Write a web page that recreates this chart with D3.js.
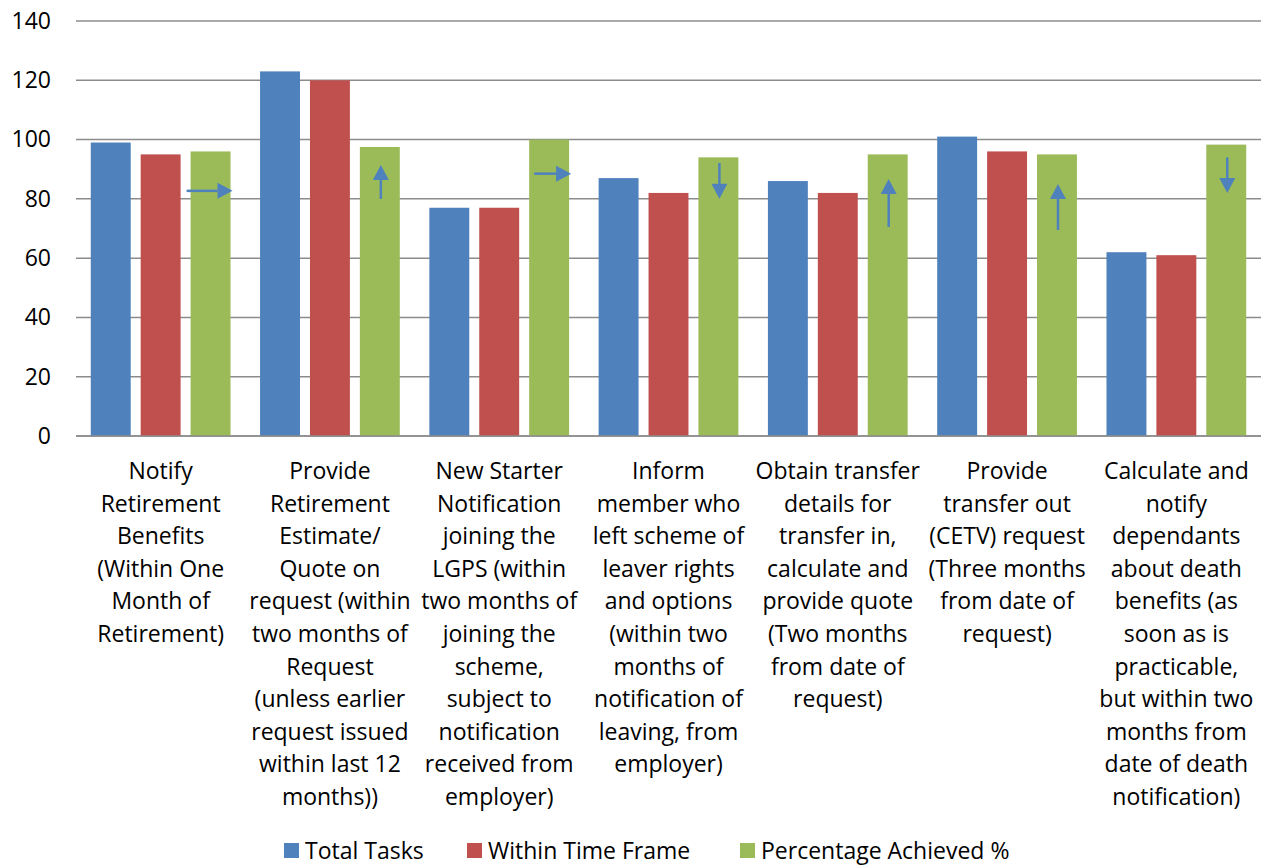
<!DOCTYPE html>
<html>
<head>
<meta charset="utf-8">
<script src="https://cdn.jsdelivr.net/npm/d3@7"></script>
<style>
  html, body { margin: 0; padding: 0; background: #fff; }
  svg { display: block; }
  text { font-family: "Open Sans", Lato, sans-serif; fill: #000; }
</style>
</head>
<body>
<svg id="chart" width="1263" height="865"></svg>
<script>
// ---- data ----
const categories = [
  ["Notify", "Retirement", "Benefits", "(Within One", "Month of", "Retirement)"],
  ["Provide", "Retirement", "Estimate/", "Quote on", "request (within", "two months of", "Request", "(unless earlier", "request issued", "within last 12", "months))"],
  ["New Starter", "Notification", "joining the", "LGPS (within", "two months of", "joining the", "scheme,", "subject to", "notification", "received from", "employer)"],
  ["Inform", "member who", "left scheme of", "leaver rights", "and options", "(within two", "months of", "notification of", "leaving, from", "employer)"],
  ["Obtain transfer", "details for", "transfer in,", "calculate and", "provide quote", "(Two months", "from date of", "request)"],
  ["Provide", "transfer out", "(CETV) request", "(Three months", "from date of", "request)"],
  ["Calculate and", "notify", "dependants", "about death", "benefits (as", "soon as is", "practicable,", "but within two", "months from", "date of death", "notification)"]
];
const seriesNames = ["Total Tasks", "Within Time Frame", "Percentage Achieved %"];
const totalTasks = [99, 123, 77, 87, 86, 101, 62];
const withinTimeFrame = [95, 120, 77, 82, 82, 96, 61];
const percentageAchieved = [96, 97.5, 100, 94, 95, 95, 98.3];
const yTicks = [0, 20, 40, 60, 80, 100, 120, 140];
// trend arrows drawn on the green bars (values in axis units)
const arrowDirs = ["right", "up", "right", "down", "up", "up", "down"];
const arrowFrom = [82.7, 80, 88.5, 92.1, 70.5, 69.5, 94];
const arrowTo   = [82.7, 91.4, 88.5, 80, 86.7, 85, 82];

// ---- layout ----
const colors = ["#4F81BD", "#C0504D", "#9BBB59"];
const FONT = 23;
const svg = d3.select("#chart");
const plot = { left: 76, right: 1261, top: 21, bottom: 436 };

const x0 = d3.scaleBand()
  .domain(d3.range(categories.length))
  .range([plot.left, plot.right])
  .paddingInner(0).paddingOuter(0);
const x1 = d3.scaleBand()
  .domain(d3.range(seriesNames.length))
  .range([0, x0.bandwidth()])
  .paddingInner(0.2).paddingOuter(0.296);
const y = d3.scaleLinear().domain([0, 140]).range([plot.bottom, plot.top]);

// gridlines
svg.append("g").selectAll("line").data(yTicks).join("line")
  .attr("x1", plot.left).attr("x2", plot.right)
  .attr("y1", d => y(d)).attr("y2", d => y(d))
  .attr("stroke", "#8c8c8c").attr("stroke-width", 1.5);

// y axis labels
const yAxis = d3.axisLeft(y).tickValues(yTicks).tickSize(0).tickPadding(25);
const ya = svg.append("g").attr("transform", `translate(${plot.left},0)`).call(yAxis);
ya.select(".domain").remove();
ya.selectAll("text").attr("font-size", FONT).attr("font-family", "'Open Sans', Lato, sans-serif").attr("fill", "#000");

// bars
const series = [totalTasks, withinTimeFrame, percentageAchieved];
const groups = svg.append("g").selectAll("g").data(categories).join("g")
  .attr("transform", (d, i) => `translate(${x0(i)},0)`);
groups.selectAll("rect").data((d, i) => series.map((s, k) => ({ k, v: s[i] }))).join("rect")
  .attr("x", d => x1(d.k)).attr("width", x1.bandwidth())
  .attr("y", d => y(d.v)).attr("height", d => y(0) - y(d.v))
  .attr("fill", d => colors[d.k]);

// baseline
svg.append("line").attr("x1", plot.left).attr("x2", plot.right)
  .attr("y1", y(0)).attr("y2", y(0)).attr("stroke", "#8c8c8c").attr("stroke-width", 1.5);

// arrows
const arrowColor = "#4F81BD";
const ag = svg.append("g");
arrowDirs.forEach((dir, i) => {
  const bx = x0(i) + x1(2);
  const bw = x1.bandwidth();
  const head = 15, half = 8;
  if (dir === "right") {
    const yy = y(arrowFrom[i]);
    const xs = bx - 4 + (i === 2 ? 9 : 0), xe = bx + bw + 2;
    ag.append("line").attr("x1", xs).attr("x2", xe - head).attr("y1", yy).attr("y2", yy)
      .attr("stroke", arrowColor).attr("stroke-width", 2.5);
    ag.append("path").attr("d", `M${xe},${yy} L${xe - head},${yy - half} L${xe - head},${yy + half} Z`).attr("fill", arrowColor);
  } else {
    const xx = bx + bw / 2 + 1;
    const ys = y(arrowFrom[i]), ye = y(arrowTo[i]);
    const sgn = dir === "up" ? 1 : -1;
    ag.append("line").attr("x1", xx).attr("x2", xx).attr("y1", ys).attr("y2", ye + sgn * head)
      .attr("stroke", arrowColor).attr("stroke-width", 2.5);
    ag.append("path").attr("d", `M${xx},${ye} L${xx - half},${ye + sgn * head} L${xx + half},${ye + sgn * head} Z`).attr("fill", arrowColor);
  }
});

// category labels
const lineH = 32.6;
const lab = svg.append("g").selectAll("text").data(categories).join("text")
  .attr("text-anchor", "middle").attr("font-size", FONT)
  .attr("x", (d, i) => x0(i) + x0.bandwidth() / 2)
  .attr("y", 479);
lab.selectAll("tspan").data(d => d).join("tspan")
  .attr("x", function() { return this.parentNode.getAttribute("x"); })
  .attr("dy", (d, j) => j === 0 ? 0 : lineH)
  .text(d => d);

// legend
const legendX = [284, 467, 740];
const lg = svg.append("g").selectAll("g").data(seriesNames).join("g")
  .attr("transform", (d, i) => `translate(${legendX[i]},843)`);
lg.append("rect").attr("width", 15).attr("height", 15).attr("fill", (d, i) => colors[i]);
lg.append("text").attr("x", 21).attr("y", 15.5).attr("font-size", FONT).text(d => d);
</script>
</body>
</html>
